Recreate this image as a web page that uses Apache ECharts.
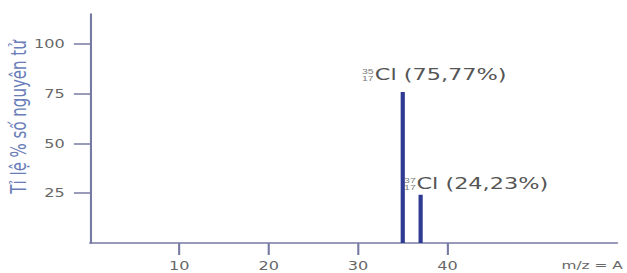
<!DOCTYPE html>
<html>
<head>
<meta charset="utf-8">
<script src="https://cdn.jsdelivr.net/npm/echarts@6/dist/echarts.min.js"></script>
<style>
  html, body { margin: 0; padding: 0; background: #fff; overflow: hidden; }
  /* ảnh gốc bị kéo giãn theo chiều ngang nên vẽ hẹp rồi giãn ra */
  #chart { width: 448px; height: 273px; transform: scaleX(1.3996); transform-origin: 0 0; }
</style>
</head>
<body>
<div id="chart"></div>
<script>
// dữ liệu đồng vị clo
const massNumbers = [35, 37];
const abundance = [75.77, 24.23];
const atomicNumbers = [17, 17];
const elements = ['Cl', 'Cl'];
const xTicks = [10, 20, 30, 40];
const yTicks = [25, 50, 75, 100];

// vị trí nhãn (chỉ là kiểu dáng)
const labelOffsets = [[-20, -17], [-3, -11]];
const isoOffsets = [[-29.2, -17], [-11.8, -11]];

const axisColor = '#767aa3';
const textColor = '#666';

const barData = massNumbers.map((m, i) => ({
  value: [m, abundance[i]],
  label: { offset: labelOffsets[i] }
}));
const isoData = massNumbers.map((m, i) => ({
  value: [m, abundance[i]],
  label: { offset: isoOffsets[i] }
}));

const option = {
  animation: false,
  grid: { left: 64.3, right: 5.1, top: 14, bottom: 30 },
  xAxis: {
    type: 'value',
    min: 0,
    max: 59,
    name: 'm/z = A',
    nameLocation: 'end',
    nameGap: 4,
    nameTextStyle: {
      color: textColor, fontSize: 11, fontFamily: 'DejaVu Sans',
      align: 'right', verticalAlign: 'top', padding: [17, 0, 0, 0]
    },
    axisLine: { show: true, lineStyle: { color: axisColor, width: 1.5 } },
    axisTick: { show: true, customValues: xTicks, length: 12, lineStyle: { color: axisColor, width: 1.5 } },
    axisLabel: { customValues: xTicks, margin: 17, color: textColor, fontSize: 11.5, fontFamily: 'DejaVu Sans' },
    splitLine: { show: false }
  },
  yAxis: {
    type: 'value',
    min: 0,
    max: 115,
    axisLine: { show: true, lineStyle: { color: axisColor, width: 1.5 } },
    axisTick: { show: true, customValues: yTicks, length: 11.5, lineStyle: { color: axisColor, width: 1.5 } },
    axisLabel: { customValues: yTicks, margin: 18, color: textColor, fontSize: 11.5, fontFamily: 'DejaVu Sans' },
    splitLine: { show: false }
  },
  graphic: [{
    type: 'text',
    x: 13.5,
    y: 117,
    rotation: Math.PI / 2,
    style: {
      text: 'Tỉ lệ % số nguyên tử',
      fill: '#6a7db8',
      fontSize: 15,
      fontFamily: 'DejaVu Sans',
      align: 'center',
      verticalAlign: 'middle'
    }
  }],
  series: [
    {
      type: 'bar',
      barWidth: 3,
      itemStyle: { color: '#2f3b93' },
      data: barData,
      label: {
        show: true,
        position: 'top',
        distance: 0,
        align: 'left',
        verticalAlign: 'middle',
        color: '#555',
        fontSize: 16,
        fontFamily: 'DejaVu Sans',
        formatter: p => elements[p.dataIndex] + ' (' + abundance[p.dataIndex].toFixed(2).replace('.', ',') + '%)'
      }
    },
    {
      type: 'scatter',
      symbolSize: 0,
      silent: true,
      data: isoData,
      label: {
        show: true,
        position: 'top',
        distance: 0,
        align: 'left',
        verticalAlign: 'middle',
        color: '#555',
        fontSize: 7.5,
        lineHeight: 7,
        fontFamily: 'Liberation Sans',
        formatter: p => massNumbers[p.dataIndex] + '\n' + atomicNumbers[p.dataIndex]
      }
    }
  ]
};

const myChart = echarts.init(document.getElementById('chart'), null, { renderer: 'svg' });
myChart.setOption(option);
</script>
</body>
</html>
